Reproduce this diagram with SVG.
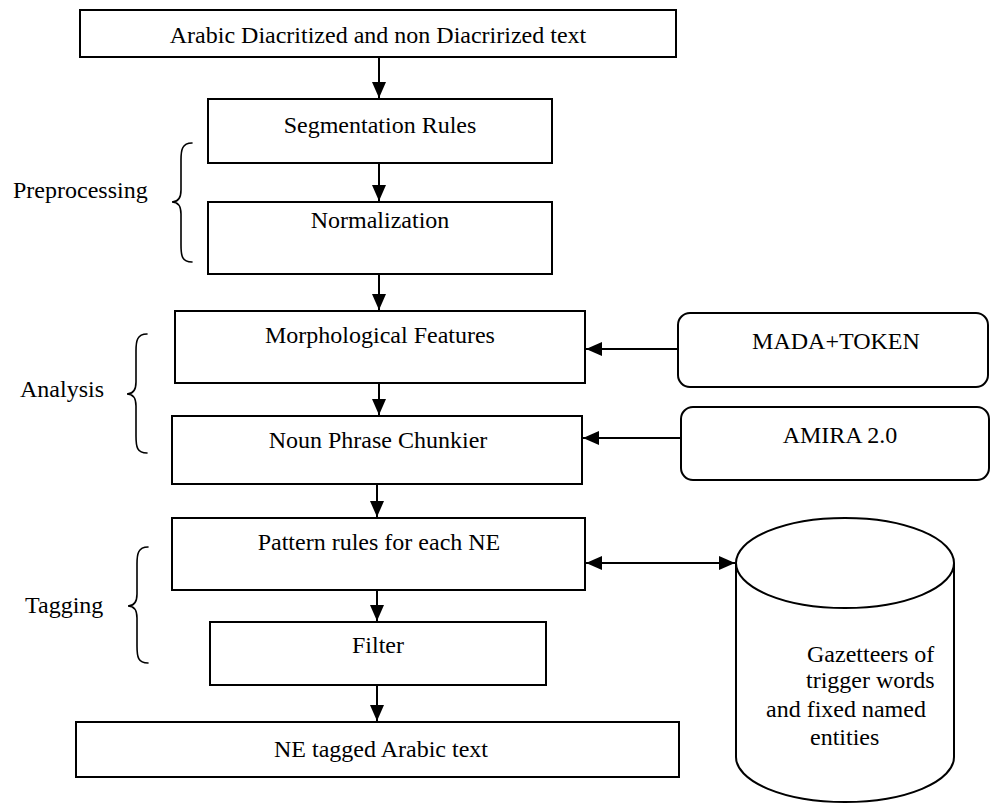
<svg xmlns="http://www.w3.org/2000/svg" width="990" height="803" viewBox="0 0 990 803">
  <style>
    .box { fill: #ffffff; stroke: #000000; stroke-width: 2; }
    .brace { fill: none; stroke: #000000; stroke-width: 1.6; stroke-linecap: round; }
    .edge { fill: none; stroke: #000000; stroke-width: 2; }
    text { font-family: "Liberation Serif", "Times New Roman", serif; font-size: 24px; fill: #000000; }
    .c { text-anchor: middle; }
  </style>
  <defs>
    <marker id="arrow" viewBox="0 0 16 14" refX="16" refY="7" markerWidth="16" markerHeight="14" markerUnits="userSpaceOnUse" orient="auto-start-reverse">
      <path d="M0,0 L16,7 L0,14 Z" fill="#000000"/>
    </marker>
  </defs>
  <rect width="990" height="803" fill="#ffffff"/>

  <!-- stage labels with curly braces -->
  <g id="label-preprocessing">
    <text x="13" y="198">Preprocessing</text>
    <path class="brace" d="M192,143 C182,143 181,150 181,160 L181,190 C181,198 178,202 172,202 C178,202 181,206 181,214 L181,245 C181,256 182,262 192,262"/>
  </g>
  <g id="label-analysis">
    <text x="20" y="397">Analysis</text>
    <path class="brace" d="M147,334 C137,334 136,341 136,351 L136,382 C136,390 133,394 127,394 C133,394 136,398 136,406 L136,436 C136,447 137,453 147,453"/>
  </g>
  <g id="label-tagging">
    <text x="25" y="613">Tagging</text>
    <path class="brace" d="M148,547 C138,547 137,554 137,564 L137,594 C137,602 134,606 128,606 C134,606 137,610 137,618 L137,646 C137,657 138,663 148,663"/>
  </g>

  <!-- processing pipeline -->
  <g id="input-text">
    <rect class="box" x="80" y="10" width="596" height="47"/>
    <text class="c" x="378" y="43">Arabic Diacritized and non Diacrirized text</text>
  </g>
  <g id="segmentation">
    <rect class="box" x="208" y="99" width="344" height="64"/>
    <text class="c" x="380" y="133">Segmentation Rules</text>
  </g>
  <g id="normalization">
    <rect class="box" x="208" y="202" width="344" height="72"/>
    <text class="c" x="380" y="228">Normalization</text>
  </g>
  <g id="morphological">
    <rect class="box" x="175" y="311" width="410" height="72"/>
    <text class="c" x="380" y="343">Morphological Features</text>
  </g>
  <g id="np-chunker">
    <rect class="box" x="172" y="416" width="410" height="68"/>
    <text class="c" x="378" y="448">Noun Phrase Chunkier</text>
  </g>
  <g id="pattern-rules">
    <rect class="box" x="172" y="518" width="413" height="72"/>
    <text class="c" x="379" y="550">Pattern rules for each NE</text>
  </g>
  <g id="filter">
    <rect class="box" x="210" y="622" width="336" height="63"/>
    <text class="c" x="378" y="653">Filter</text>
  </g>
  <g id="output-text">
    <rect class="box" x="76" y="722" width="603" height="55"/>
    <text class="c" x="381" y="757">NE tagged Arabic text</text>
  </g>

  <!-- external resources -->
  <g id="mada-token">
    <rect class="box" x="678" y="313" width="310" height="74" rx="12" ry="12"/>
    <text class="c" x="836" y="349">MADA+TOKEN</text>
  </g>
  <g id="amira">
    <rect class="box" x="681" y="407" width="308" height="73" rx="12" ry="12"/>
    <text class="c" x="840" y="443">AMIRA 2.0</text>
  </g>
  <g id="gazetteers">
    <path class="box" d="M736,563 L736,757 A109,45 0 0 0 954,757 L954,563"/>
    <ellipse class="box" cx="845" cy="563" rx="109" ry="45"/>
    <text x="807" y="662">Gazetteers of</text>
    <text x="806" y="688">trigger words</text>
    <text x="766" y="717">and fixed named</text>
    <text x="810" y="745">entities</text>
  </g>

  <!-- connectors -->
  <g id="connectors">
    <line class="edge" x1="379" y1="57" x2="379" y2="98" marker-end="url(#arrow)"/>
    <line class="edge" x1="379" y1="163" x2="379" y2="201" marker-end="url(#arrow)"/>
    <line class="edge" x1="379" y1="274" x2="379" y2="310" marker-end="url(#arrow)"/>
    <line class="edge" x1="379" y1="383" x2="379" y2="415" marker-end="url(#arrow)"/>
    <line class="edge" x1="377" y1="484" x2="377" y2="517" marker-end="url(#arrow)"/>
    <line class="edge" x1="377" y1="590" x2="377" y2="621" marker-end="url(#arrow)"/>
    <line class="edge" x1="377" y1="685" x2="377" y2="721" marker-end="url(#arrow)"/>
    <line class="edge" x1="678" y1="349" x2="586" y2="349" marker-end="url(#arrow)"/>
    <line class="edge" x1="681" y1="438" x2="583" y2="438" marker-end="url(#arrow)"/>
    <line class="edge" x1="586" y1="563" x2="735" y2="563" marker-start="url(#arrow)" marker-end="url(#arrow)"/>
  </g>
</svg>
